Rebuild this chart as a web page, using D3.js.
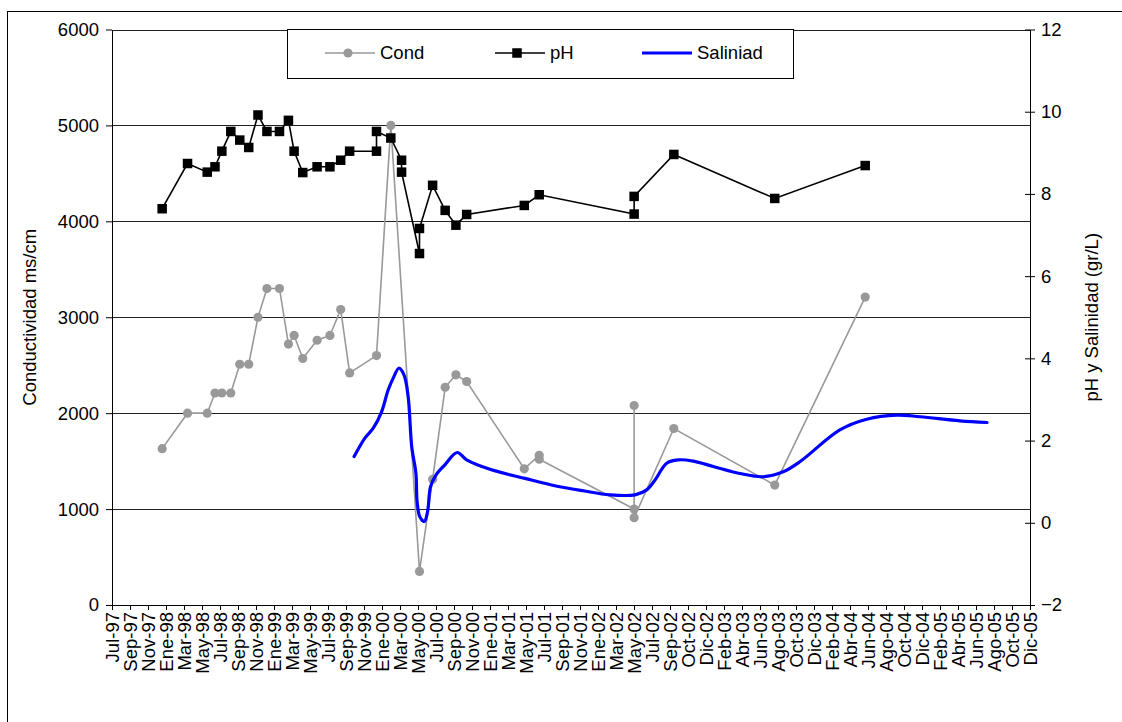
<!DOCTYPE html>
<html>
<head>
<meta charset="utf-8">
<script src="https://cdn.jsdelivr.net/npm/d3@7"></script>
<style>
  html, body { margin: 0; padding: 0; background: #fff; }
  svg { display: block; font-family: "Liberation Sans", Arial, sans-serif; }
</style>
</head>
<body>
<svg id="chart" width="1122" height="722"></svg>
<script>
// ---------------- DATA ----------------
const xLabels = ["Jul-97","Sep-97","Nov-97","Ene-98","Mar-98","May-98","Jul-98","Sep-98","Nov-98","Ene-99","Mar-99","May-99","Jul-99","Sep-99","Nov-99","Ene-00","Mar-00","May-00","Jul-00","Sep-00","Nov-00","Ene-01","Mar-01","May-01","Jul-01","Sep-01","Nov-01","Ene-02","Mar-02","May-02","Jul-02","Sep-02","Oct-02","Dic-02","Feb-03","Abr-03","Jun-03","Ago-03","Oct-03","Dic-03","Feb-04","Abr-04","Jun-04","Ago-04","Oct-04","Dic-04","Feb-05","Abr-05","Jun-05","Ago-05","Oct-05","Dic-05"];
const axisStart = "1997-07-01";
const axisEnd = "2005-12-01";
const leftTicks = [0,1000,2000,3000,4000,5000,6000];
const rightTicks = [-2,0,2,4,6,8,10,12];

const condDates = ["1997-12-16","1998-03-11","1998-05-16","1998-06-11","1998-07-04","1998-08-03","1998-09-02","1998-10-02","1998-11-02","1998-12-02","1999-01-13","1999-02-12","1999-03-03","1999-04-01","1999-05-19","1999-07-01","1999-08-06","1999-09-05","1999-12-04","2000-01-21","2000-04-26","2000-06-09","2000-07-21","2000-08-26","2000-10-01","2001-04-12","2001-06-01","2001-06-01","2002-04-15","2002-04-15","2002-04-15","2002-08-26","2003-07-30","2004-05-28"];
const condValues = [1630,2000,2000,2210,2210,2210,2510,2510,3000,3300,3300,2720,2810,2570,2760,2810,3080,2420,2600,5000,350,1310,2270,2400,2330,1420,1560,1520,1000,2080,910,1840,1250,3210];

const phDates = ["1997-12-16","1998-03-11","1998-05-16","1998-06-11","1998-07-04","1998-08-03","1998-09-02","1998-10-02","1998-11-02","1998-12-02","1999-01-13","1999-02-12","1999-03-03","1999-04-01","1999-05-19","1999-07-01","1999-08-06","1999-09-05","1999-12-04","1999-12-04","2000-01-21","2000-02-26","2000-02-26","2000-04-26","2000-04-26","2000-06-09","2000-07-21","2000-08-26","2000-10-01","2001-04-12","2001-06-01","2002-04-15","2002-04-15","2002-08-26","2003-07-30","2004-05-28"];
const phValues = [7.64,8.74,8.53,8.66,9.04,9.52,9.31,9.13,9.92,9.52,9.52,9.79,9.04,8.52,8.66,8.66,8.82,9.04,9.04,9.52,9.36,8.82,8.53,6.55,7.16,8.21,7.60,7.24,7.50,7.72,7.98,7.51,7.94,8.96,7.89,8.69];

const salDates = ["1999-09-20","1999-10-26","1999-11-23","1999-12-21","2000-01-12","2000-01-29","2000-02-17","2000-03-05","2000-03-19","2000-03-31","2000-04-14","2000-04-18","2000-04-27","2000-05-12","2000-05-23","2000-06-02","2000-06-20","2000-07-20","2000-08-30","2000-10-01","2000-12-18","2001-04-14","2001-07-12","2001-10-26","2002-01-24","2002-04-18","2002-05-27","2002-06-24","2002-08-02","2002-09-09","2002-10-30","2003-01-05","2003-04-04","2003-06-21","2003-08-27","2003-10-23","2004-03-04","2004-06-02","2004-09-10","2004-11-28","2005-04-10","2005-07-10"];
const salValues = [1.61,2.06,2.30,2.70,3.23,3.52,3.76,3.60,3.07,1.85,1.20,0.51,0.15,0.03,0.27,0.88,1.16,1.41,1.71,1.53,1.30,1.08,0.92,0.78,0.68,0.68,0.80,1.04,1.45,1.53,1.50,1.37,1.20,1.12,1.24,1.49,2.26,2.52,2.62,2.58,2.48,2.44];

const seriesNames = ["Cond","pH","Saliniad"];
const leftTitle = "Conductividad ms/cm";
const rightTitle = "pH y Salinidad (gr/L)";

// ---------------- CHART ----------------
const parse = d3.timeParse("%Y-%m-%d");
const svg = d3.select("#chart");
const L = 112, R = 1030, T = 29.5, B = 605;
const FONT = 18.5;
const FF = '"Liberation Sans", Arial, sans-serif';

svg.append("rect").attr("x",0).attr("y",0).attr("width",1122).attr("height",722).attr("fill","#fff");
svg.append("rect").attr("x",7.5).attr("y",11.5).attr("width",1130).attr("height",730)
  .attr("fill","none").attr("stroke","#000").attr("stroke-width",1);

const t0 = parse(axisStart), t1 = parse(axisEnd);
const x = d3.scaleTime().domain([t0, t1]).range([L, R]);
const yL = d3.scaleLinear().domain([0, 6000]).range([B, T]);
const yR = d3.scaleLinear().domain([-2, 12]).range([B, T]);
const tickDates = d3.range(xLabels.length).map(i => new Date(+t0 + i * (t1 - t0) / (xLabels.length - 1)));

// gridlines
svg.append("g").selectAll("line").data(leftTicks.filter(v => v > 0)).join("line")
  .attr("x1", L).attr("x2", R)
  .attr("y1", d => Math.round(yL(d)) + 0.5).attr("y2", d => Math.round(yL(d)) + 0.5)
  .attr("stroke", "#222").attr("stroke-width", 1);

// x axis
const gx = svg.append("g").attr("transform", `translate(0,${B})`)
  .call(d3.axisBottom(x).tickValues(tickDates).tickFormat((d, i) => xLabels[i]).tickSize(5).tickSizeOuter(0));
gx.select(".domain").attr("stroke", "#000");
gx.selectAll(".tick line").attr("stroke", "#000");
gx.selectAll("text")
  .attr("transform", "rotate(-90)")
  .attr("x", -7).attr("y", 0).attr("dy", "0.35em")
  .style("text-anchor", "end")
  .attr("fill", "#000")
  .style("font-size", FONT + "px")
  .style("font-family", FF);

// left axis
const gl = svg.append("g").attr("transform", `translate(${L},0)`)
  .call(d3.axisLeft(yL).tickValues(leftTicks).tickFormat(d3.format("d")).tickSize(6).tickPadding(7).tickSizeOuter(0));
gl.select(".domain").attr("stroke", "#000");
gl.selectAll(".tick line").attr("stroke", "#000");
gl.selectAll("text").attr("fill", "#000").style("font-size", FONT + "px").style("font-family", FF);

// right axis
const gr = svg.append("g").attr("transform", `translate(${R},0)`)
  .call(d3.axisRight(yR).tickValues(rightTicks).tickSize(5).tickPadding(6).tickSizeOuter(0));
gr.select(".domain").attr("stroke", "#000");
gr.selectAll(".tick line").attr("stroke", "#000").attr("x1", -5);
gr.selectAll("text").attr("fill", "#000").style("font-size", FONT + "px").style("font-family", FF);

// axis titles
svg.append("text").attr("transform", `translate(30,${(T + B) / 2}) rotate(-90)`)
  .attr("text-anchor", "middle").attr("dy", "0.35em").style("font-size", FONT + "px").text(leftTitle);
svg.append("text").attr("transform", `translate(1092,${(T + B) / 2}) rotate(-90)`)
  .attr("text-anchor", "middle").attr("dy", "0.35em").style("font-size", FONT + "px").text(rightTitle);

// series
const cond = condDates.map((d, i) => ({ d: parse(d), v: condValues[i] }));
const ph = phDates.map((d, i) => ({ d: parse(d), v: phValues[i] }));
const sal = salDates.map((d, i) => ({ d: parse(d), v: salValues[i] }));

const condLine = d3.line().x(p => x(p.d)).y(p => yL(p.v));
const rLine = d3.line().x(p => x(p.d)).y(p => yR(p.v));
const salLine = d3.line().x(p => x(p.d)).y(p => yR(p.v)).curve(d3.curveCatmullRom.alpha(0.5));

svg.append("path").datum(cond).attr("d", condLine).attr("fill", "none").attr("stroke", "#999").attr("stroke-width", 1.6);
svg.append("g").selectAll("circle").data(cond).join("circle")
  .attr("cx", p => x(p.d)).attr("cy", p => yL(p.v)).attr("r", 4.6).attr("fill", "#999");

svg.append("path").datum(ph).attr("d", rLine).attr("fill", "none").attr("stroke", "#000").attr("stroke-width", 1.6);
const S = 9.5;
svg.append("g").selectAll("rect").data(ph).join("rect")
  .attr("x", p => x(p.d) - S / 2).attr("y", p => yR(p.v) - S / 2).attr("width", S).attr("height", S).attr("fill", "#000");

svg.append("path").datum(sal).attr("d", salLine).attr("fill", "none").attr("stroke", "#0000ff")
  .attr("stroke-width", 3.2).attr("stroke-linejoin", "round").attr("stroke-linecap", "round");

// legend
const lg = svg.append("g");
lg.append("rect").attr("x", 287.5).attr("y", 29.5).attr("width", 506).attr("height", 49)
  .attr("fill", "#fff").attr("stroke", "#000").attr("stroke-width", 1);
const ly = 53;
const items = [
  { x0: 325, name: seriesNames[0], color: "#999", w: 1.6, mark: "circle" },
  { x0: 495, name: seriesNames[1], color: "#000", w: 1.6, mark: "square" },
  { x0: 642, name: seriesNames[2], color: "#0000ff", w: 3.2, mark: null }
];
items.forEach(it => {
  lg.append("line").attr("x1", it.x0).attr("x2", it.x0 + 50).attr("y1", ly).attr("y2", ly)
    .attr("stroke", it.color).attr("stroke-width", it.w);
  if (it.mark === "circle") lg.append("circle").attr("cx", it.x0 + 23).attr("cy", ly).attr("r", 4.6).attr("fill", it.color);
  if (it.mark === "square") lg.append("rect").attr("x", it.x0 + 22 - S / 2).attr("y", ly - S / 2).attr("width", S).attr("height", S).attr("fill", it.color);
  lg.append("text").attr("x", it.x0 + 55).attr("y", ly).attr("dy", "0.35em").style("font-size", FONT + "px").text(it.name);
});
</script>
</body>
</html>
